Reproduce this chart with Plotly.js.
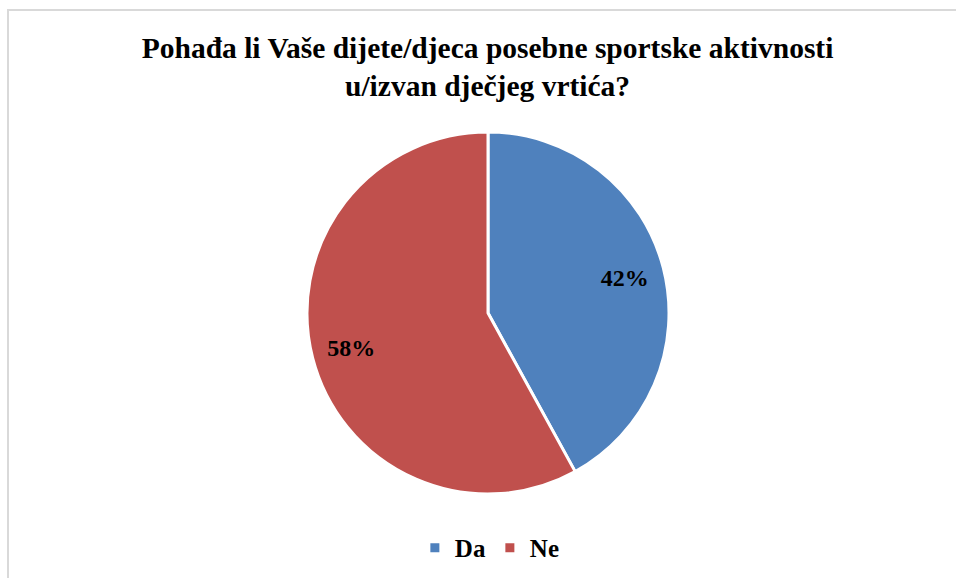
<!DOCTYPE html>
<html>
<head>
<meta charset="utf-8">
<script src="https://cdn.plot.ly/plotly-3.0.1.min.js"></script>
<style>
  html, body { margin: 0; padding: 0; background: #ffffff; }
  #wrap { position: relative; width: 956px; height: 578px; overflow: hidden; }
  #grafica { width: 956px; height: 578px; }
  #okvir {
    position: absolute; left: 7px; top: 9px;
    width: 1000px; height: 700px;
    border-left: 2px solid #d9d9d9; border-top: 2px solid #d9d9d9;
    pointer-events: none;
  }
</style>
</head>
<body>
<div id="wrap">
  <div id="grafica"></div>
  <div id="okvir"></div>
</div>
<script>
// podaci
const odgovori = ["Da", "Ne"];
const postoci = [42, 58];
const boje = ["#4F81BD", "#C0504D"];

const naslov = "Pohađa li Vaše dijete/djeca posebne sportske aktivnosti<br>u/izvan dječjeg vrtića?";

const font = "'Liberation Serif', 'Times New Roman', serif";

// puna pita, bez teksta
let pita = {
    type: 'pie',
    labels: odgovori,
    values: postoci,
    sort: false,
    direction: 'clockwise',
    rotation: 0,
    marker: {
        colors: boje,
        line: { color: '#ffffff', width: 3 }
    },
    textinfo: 'none',
    hoverinfo: 'none'
};

// prozirni prsten samo za oznake postotaka (pomiče ih prema rubu)
let oznake = {
    type: 'pie',
    labels: odgovori,
    values: postoci,
    sort: false,
    direction: 'clockwise',
    rotation: 0,
    hole: 0.56,
    showlegend: false,
    marker: {
        colors: ['rgba(0,0,0,0)', 'rgba(0,0,0,0)'],
        line: { width: 0 }
    },
    texttemplate: '<b>%{percent:.0%}</b>',
    textposition: 'inside',
    insidetextorientation: 'horizontal',
    insidetextfont: { family: font, size: 24, color: '#000000' },
    hoverinfo: 'none'
};

let layout = {
    width: 956,
    height: 578,
    paper_bgcolor: '#ffffff',
    plot_bgcolor: '#ffffff',
    margin: { t: 132, b: 84, l: 20, r: 0 },
    title: {
        text: '<b>' + naslov + '</b>',
        font: { family: font, size: 29.5, color: '#000000' },
        x: 0.51,
        xanchor: 'center',
        y: 0.90,
        yanchor: 'top'
    },
    showlegend: true,
    legend: {
        orientation: 'h',
        x: 0.502,
        xanchor: 'center',
        yref: 'container',
        y: 0.052,
        yanchor: 'middle',
        font: { family: font, size: 25, color: '#000000', weight: 'bold' },
        itemwidth: 30,
        entrywidth: 30
    }
};

Plotly.newPlot('grafica', [pita, oznake], layout, { staticPlot: true });
</script>
</body>
</html>
